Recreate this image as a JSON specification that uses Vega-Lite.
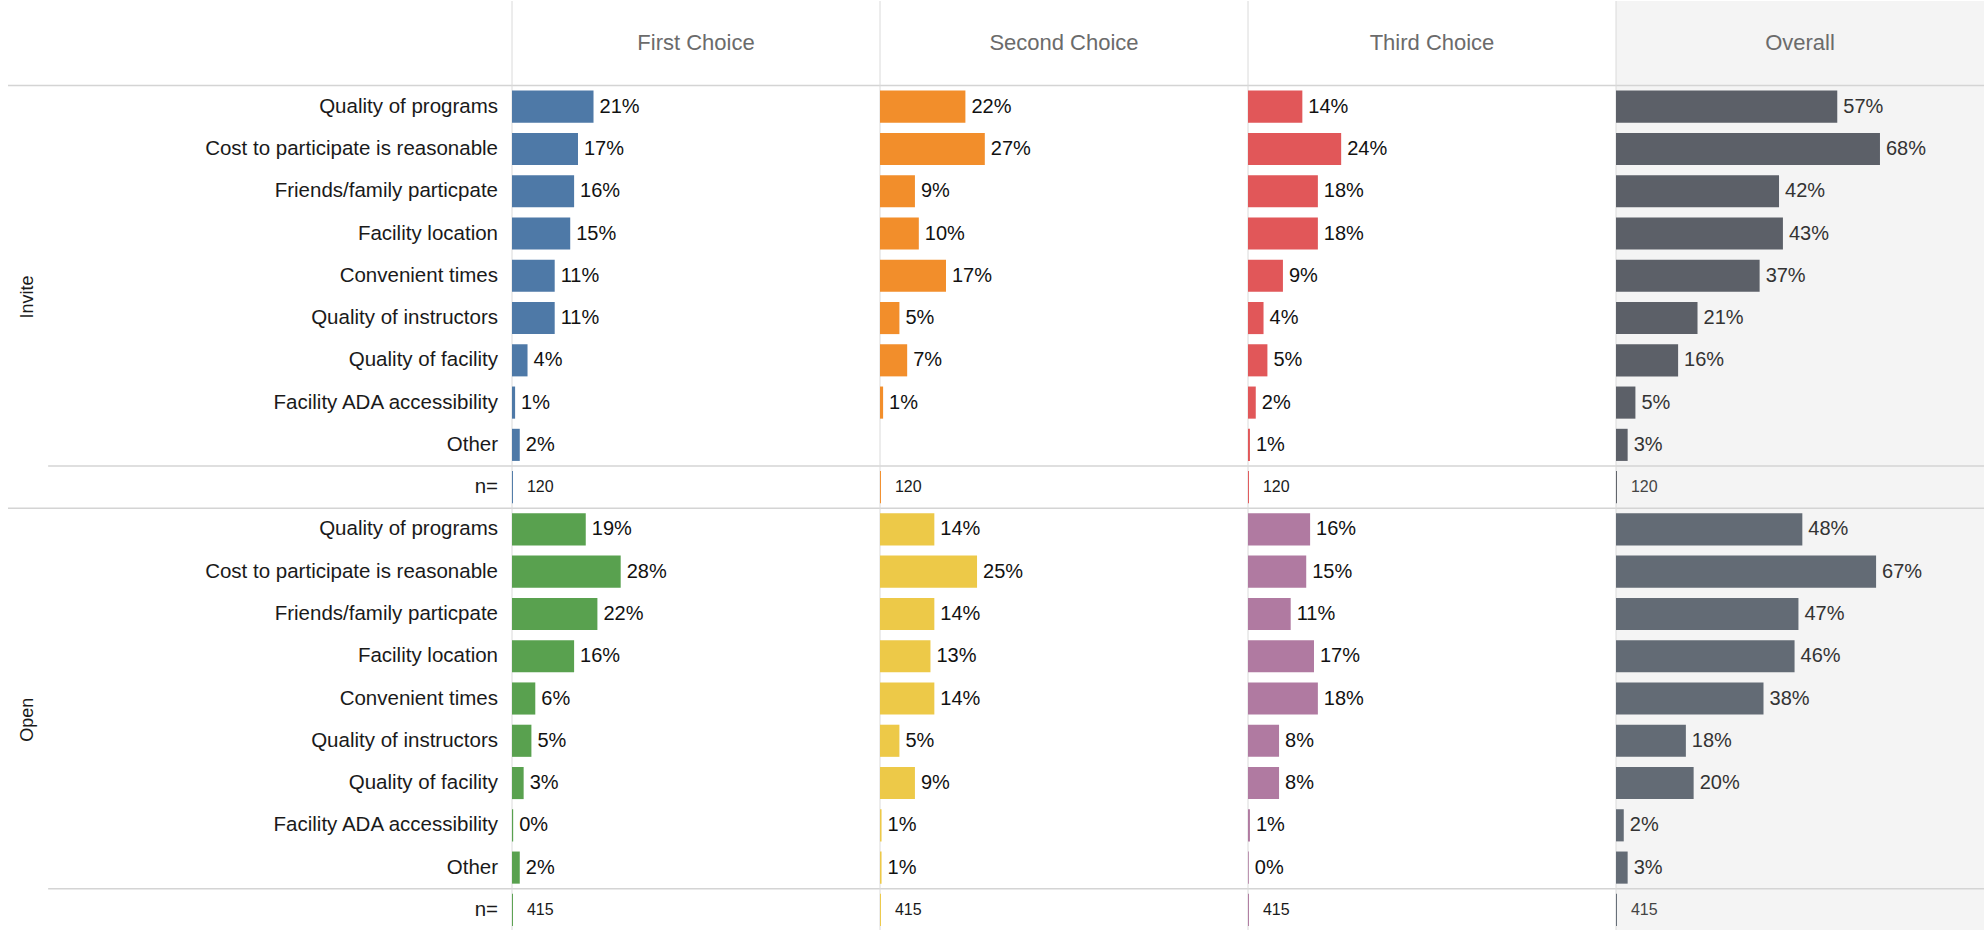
{
  "$schema": "https://vega.github.io/schema/vega-lite/v6.json",
  "padding": 0,
  "background": "white",
  "bounds": "flush",
  "config": {"font": "Liberation Sans", "view": {"stroke": null}},
  "datasets": {
    "d": [
      {"r": "I1", "g": "Invite", "item": "Quality of programs", "c": "First Choice", "v": 0.21, "t": "21%"},
      {"r": "I2", "g": "Invite", "item": "Cost to participate is reasonable", "c": "First Choice", "v": 0.17, "t": "17%"},
      {"r": "I3", "g": "Invite", "item": "Friends/family particpate", "c": "First Choice", "v": 0.16, "t": "16%"},
      {"r": "I4", "g": "Invite", "item": "Facility location", "c": "First Choice", "v": 0.15, "t": "15%"},
      {"r": "I5", "g": "Invite", "item": "Convenient times", "c": "First Choice", "v": 0.11, "t": "11%"},
      {"r": "I6", "g": "Invite", "item": "Quality of instructors", "c": "First Choice", "v": 0.11, "t": "11%"},
      {"r": "I7", "g": "Invite", "item": "Quality of facility", "c": "First Choice", "v": 0.04, "t": "4%"},
      {"r": "I8", "g": "Invite", "item": "Facility ADA accessibility", "c": "First Choice", "v": 0.008, "t": "1%"},
      {"r": "I9", "g": "Invite", "item": "Other", "c": "First Choice", "v": 0.02, "t": "2%"},
      {"r": "In", "g": "Invite", "item": "n=", "c": "First Choice", "v": 0.0025, "t": "120"},
      {"r": "I1", "g": "Invite", "item": "Quality of programs", "c": "Second Choice", "v": 0.22, "t": "22%"},
      {"r": "I2", "g": "Invite", "item": "Cost to participate is reasonable", "c": "Second Choice", "v": 0.27, "t": "27%"},
      {"r": "I3", "g": "Invite", "item": "Friends/family particpate", "c": "Second Choice", "v": 0.09, "t": "9%"},
      {"r": "I4", "g": "Invite", "item": "Facility location", "c": "Second Choice", "v": 0.10, "t": "10%"},
      {"r": "I5", "g": "Invite", "item": "Convenient times", "c": "Second Choice", "v": 0.17, "t": "17%"},
      {"r": "I6", "g": "Invite", "item": "Quality of instructors", "c": "Second Choice", "v": 0.05, "t": "5%"},
      {"r": "I7", "g": "Invite", "item": "Quality of facility", "c": "Second Choice", "v": 0.07, "t": "7%"},
      {"r": "I8", "g": "Invite", "item": "Facility ADA accessibility", "c": "Second Choice", "v": 0.008, "t": "1%"},
      {"r": "In", "g": "Invite", "item": "n=", "c": "Second Choice", "v": 0.0025, "t": "120"},
      {"r": "I1", "g": "Invite", "item": "Quality of programs", "c": "Third Choice", "v": 0.14, "t": "14%"},
      {"r": "I2", "g": "Invite", "item": "Cost to participate is reasonable", "c": "Third Choice", "v": 0.24, "t": "24%"},
      {"r": "I3", "g": "Invite", "item": "Friends/family particpate", "c": "Third Choice", "v": 0.18, "t": "18%"},
      {"r": "I4", "g": "Invite", "item": "Facility location", "c": "Third Choice", "v": 0.18, "t": "18%"},
      {"r": "I5", "g": "Invite", "item": "Convenient times", "c": "Third Choice", "v": 0.09, "t": "9%"},
      {"r": "I6", "g": "Invite", "item": "Quality of instructors", "c": "Third Choice", "v": 0.04, "t": "4%"},
      {"r": "I7", "g": "Invite", "item": "Quality of facility", "c": "Third Choice", "v": 0.05, "t": "5%"},
      {"r": "I8", "g": "Invite", "item": "Facility ADA accessibility", "c": "Third Choice", "v": 0.02, "t": "2%"},
      {"r": "I9", "g": "Invite", "item": "Other", "c": "Third Choice", "v": 0.005, "t": "1%"},
      {"r": "In", "g": "Invite", "item": "n=", "c": "Third Choice", "v": 0.0025, "t": "120"},
      {"r": "I1", "g": "Invite", "item": "Quality of programs", "c": "Overall", "v": 0.57, "t": "57%"},
      {"r": "I2", "g": "Invite", "item": "Cost to participate is reasonable", "c": "Overall", "v": 0.68, "t": "68%"},
      {"r": "I3", "g": "Invite", "item": "Friends/family particpate", "c": "Overall", "v": 0.42, "t": "42%"},
      {"r": "I4", "g": "Invite", "item": "Facility location", "c": "Overall", "v": 0.43, "t": "43%"},
      {"r": "I5", "g": "Invite", "item": "Convenient times", "c": "Overall", "v": 0.37, "t": "37%"},
      {"r": "I6", "g": "Invite", "item": "Quality of instructors", "c": "Overall", "v": 0.21, "t": "21%"},
      {"r": "I7", "g": "Invite", "item": "Quality of facility", "c": "Overall", "v": 0.16, "t": "16%"},
      {"r": "I8", "g": "Invite", "item": "Facility ADA accessibility", "c": "Overall", "v": 0.05, "t": "5%"},
      {"r": "I9", "g": "Invite", "item": "Other", "c": "Overall", "v": 0.03, "t": "3%"},
      {"r": "In", "g": "Invite", "item": "n=", "c": "Overall", "v": 0.0025, "t": "120"},
      {"r": "O1", "g": "Open", "item": "Quality of programs", "c": "First Choice", "v": 0.19, "t": "19%"},
      {"r": "O2", "g": "Open", "item": "Cost to participate is reasonable", "c": "First Choice", "v": 0.28, "t": "28%"},
      {"r": "O3", "g": "Open", "item": "Friends/family particpate", "c": "First Choice", "v": 0.22, "t": "22%"},
      {"r": "O4", "g": "Open", "item": "Facility location", "c": "First Choice", "v": 0.16, "t": "16%"},
      {"r": "O5", "g": "Open", "item": "Convenient times", "c": "First Choice", "v": 0.06, "t": "6%"},
      {"r": "O6", "g": "Open", "item": "Quality of instructors", "c": "First Choice", "v": 0.05, "t": "5%"},
      {"r": "O7", "g": "Open", "item": "Quality of facility", "c": "First Choice", "v": 0.03, "t": "3%"},
      {"r": "O8", "g": "Open", "item": "Facility ADA accessibility", "c": "First Choice", "v": 0.003, "t": "0%"},
      {"r": "O9", "g": "Open", "item": "Other", "c": "First Choice", "v": 0.02, "t": "2%"},
      {"r": "On", "g": "Open", "item": "n=", "c": "First Choice", "v": 0.0025, "t": "415"},
      {"r": "O1", "g": "Open", "item": "Quality of programs", "c": "Second Choice", "v": 0.14, "t": "14%"},
      {"r": "O2", "g": "Open", "item": "Cost to participate is reasonable", "c": "Second Choice", "v": 0.25, "t": "25%"},
      {"r": "O3", "g": "Open", "item": "Friends/family particpate", "c": "Second Choice", "v": 0.14, "t": "14%"},
      {"r": "O4", "g": "Open", "item": "Facility location", "c": "Second Choice", "v": 0.13, "t": "13%"},
      {"r": "O5", "g": "Open", "item": "Convenient times", "c": "Second Choice", "v": 0.14, "t": "14%"},
      {"r": "O6", "g": "Open", "item": "Quality of instructors", "c": "Second Choice", "v": 0.05, "t": "5%"},
      {"r": "O7", "g": "Open", "item": "Quality of facility", "c": "Second Choice", "v": 0.09, "t": "9%"},
      {"r": "O8", "g": "Open", "item": "Facility ADA accessibility", "c": "Second Choice", "v": 0.004, "t": "1%"},
      {"r": "O9", "g": "Open", "item": "Other", "c": "Second Choice", "v": 0.004, "t": "1%"},
      {"r": "On", "g": "Open", "item": "n=", "c": "Second Choice", "v": 0.0025, "t": "415"},
      {"r": "O1", "g": "Open", "item": "Quality of programs", "c": "Third Choice", "v": 0.16, "t": "16%"},
      {"r": "O2", "g": "Open", "item": "Cost to participate is reasonable", "c": "Third Choice", "v": 0.15, "t": "15%"},
      {"r": "O3", "g": "Open", "item": "Friends/family particpate", "c": "Third Choice", "v": 0.11, "t": "11%"},
      {"r": "O4", "g": "Open", "item": "Facility location", "c": "Third Choice", "v": 0.17, "t": "17%"},
      {"r": "O5", "g": "Open", "item": "Convenient times", "c": "Third Choice", "v": 0.18, "t": "18%"},
      {"r": "O6", "g": "Open", "item": "Quality of instructors", "c": "Third Choice", "v": 0.08, "t": "8%"},
      {"r": "O7", "g": "Open", "item": "Quality of facility", "c": "Third Choice", "v": 0.08, "t": "8%"},
      {"r": "O8", "g": "Open", "item": "Facility ADA accessibility", "c": "Third Choice", "v": 0.005, "t": "1%"},
      {"r": "O9", "g": "Open", "item": "Other", "c": "Third Choice", "v": 0.002, "t": "0%"},
      {"r": "On", "g": "Open", "item": "n=", "c": "Third Choice", "v": 0.0025, "t": "415"},
      {"r": "O1", "g": "Open", "item": "Quality of programs", "c": "Overall", "v": 0.48, "t": "48%"},
      {"r": "O2", "g": "Open", "item": "Cost to participate is reasonable", "c": "Overall", "v": 0.67, "t": "67%"},
      {"r": "O3", "g": "Open", "item": "Friends/family particpate", "c": "Overall", "v": 0.47, "t": "47%"},
      {"r": "O4", "g": "Open", "item": "Facility location", "c": "Overall", "v": 0.46, "t": "46%"},
      {"r": "O5", "g": "Open", "item": "Convenient times", "c": "Overall", "v": 0.38, "t": "38%"},
      {"r": "O6", "g": "Open", "item": "Quality of instructors", "c": "Overall", "v": 0.18, "t": "18%"},
      {"r": "O7", "g": "Open", "item": "Quality of facility", "c": "Overall", "v": 0.20, "t": "20%"},
      {"r": "O8", "g": "Open", "item": "Facility ADA accessibility", "c": "Overall", "v": 0.02, "t": "2%"},
      {"r": "O9", "g": "Open", "item": "Other", "c": "Overall", "v": 0.03, "t": "3%"},
      {"r": "On", "g": "Open", "item": "n=", "c": "Overall", "v": 0.0025, "t": "415"}
    ]
  },
  "data": {"name": "d"},
  "spacing": 0,
  "hconcat": [
    {
      "width": 512,
      "height": 930,
      "transform": [{"filter": "datum.c == 'First Choice'"}],
      "layer": [
        {
          "transform": [{"filter": "datum.r == 'I1' || datum.r == 'O1'"}],
          "mark": {"type": "rule", "color": "#d4d4d4", "strokeWidth": 1.5},
          "encoding": {
            "x": {"datum": 0.0156, "type": "quantitative", "scale": {"domain": [0, 1], "nice": false, "zero": false}, "axis": null},
            "x2": {"datum": 1},
            "y": {"field": "r", "type": "nominal", "bandPosition": 0, "axis": null,
                  "scale": {"domain": ["H1","H2","I1","I2","I3","I4","I5","I6","I7","I8","I9","In","O1","O2","O3","O4","O5","O6","O7","O8","O9","On"], "paddingInner": 0, "paddingOuter": 0}}
          }
        },
        {
          "transform": [{"filter": "datum.r == 'In' || datum.r == 'On'"}],
          "mark": {"type": "rule", "color": "#d4d4d4", "strokeWidth": 1.5},
          "encoding": {
            "x": {"datum": 0.094, "type": "quantitative", "scale": {"domain": [0, 1], "nice": false, "zero": false}, "axis": null},
            "x2": {"datum": 1},
            "y": {"field": "r", "type": "nominal", "bandPosition": 0, "axis": null,
                  "scale": {"domain": ["H1","H2","I1","I2","I3","I4","I5","I6","I7","I8","I9","In","O1","O2","O3","O4","O5","O6","O7","O8","O9","On"], "paddingInner": 0, "paddingOuter": 0}}
          }
        },
        {
          "mark": {"type": "text", "align": "right", "baseline": "middle", "fontSize": 20.5, "color": "#1a1a1a"},
          "encoding": {
            "x": {"datum": 0.9727, "type": "quantitative", "scale": {"domain": [0, 1], "nice": false, "zero": false}, "axis": null},
            "y": {"field": "r", "type": "nominal", "axis": null,
                  "scale": {"domain": ["H1","H2","I1","I2","I3","I4","I5","I6","I7","I8","I9","In","O1","O2","O3","O4","O5","O6","O7","O8","O9","On"], "paddingInner": 0, "paddingOuter": 0}},
            "text": {"field": "item"}
          }
        },
        {
          "transform": [{"filter": "datum.r == 'I6' || datum.r == 'O6'"}],
          "mark": {"type": "text", "align": "center", "baseline": "middle", "angle": 270, "fontSize": 18, "color": "#1a1a1a"},
          "encoding": {
            "x": {"datum": 0.0547, "type": "quantitative", "scale": {"domain": [0, 1], "nice": false, "zero": false}, "axis": null},
            "y": {"field": "r", "type": "nominal", "bandPosition": 0, "axis": null,
                  "scale": {"domain": ["H1","H2","I1","I2","I3","I4","I5","I6","I7","I8","I9","In","O1","O2","O3","O4","O5","O6","O7","O8","O9","On"], "paddingInner": 0, "paddingOuter": 0}},
            "text": {"field": "g"}
          }
        }
      ]
    },
    {
      "facet": {"column": {"field": "c", "type": "nominal", "sort": ["First Choice", "Second Choice", "Third Choice", "Overall"], "header": null}},
      "spacing": 0,
      "bounds": "flush",
      "spec": {
        "width": 368,
        "height": 930,
        "layer": [
          {
            "transform": [{"filter": "datum.c == 'Overall' && datum.r == 'I1'"}],
            "mark": {"type": "rect", "color": "#f4f4f4"},
            "encoding": {
              "x": {"datum": 0, "type": "quantitative", "scale": {"domain": [0, 0.948], "nice": false, "zero": false}, "axis": null},
              "x2": {"datum": 0.948}
            }
          },
          {
            "transform": [{"filter": "datum.r == 'I1' || datum.r == 'O1' || datum.r == 'In' || datum.r == 'On'"}],
            "mark": {"type": "rule", "color": "#d4d4d4", "strokeWidth": 1.5},
            "encoding": {
              "y": {"field": "r", "type": "nominal", "bandPosition": 0, "axis": null,
                    "scale": {"domain": ["H1","H2","I1","I2","I3","I4","I5","I6","I7","I8","I9","In","O1","O2","O3","O4","O5","O6","O7","O8","O9","On"], "paddingInner": 0, "paddingOuter": 0}}
            }
          },
          {
            "transform": [{"filter": "datum.r == 'I1'"}],
            "mark": {"type": "rule", "color": "#dadada", "strokeWidth": 1},
            "encoding": {
              "x": {"datum": 0, "type": "quantitative", "scale": {"domain": [0, 0.948], "nice": false, "zero": false}, "axis": null}
            }
          },
          {
            "transform": [{"filter": "datum.g == 'Invite'"}],
            "mark": {"type": "bar", "height": {"band": 0.76}},
            "encoding": {
              "x": {"field": "v", "type": "quantitative", "scale": {"domain": [0, 0.948], "nice": false, "zero": false}, "axis": null},
              "y": {"field": "r", "type": "nominal", "axis": null,
                    "scale": {"domain": ["H1","H2","I1","I2","I3","I4","I5","I6","I7","I8","I9","In","O1","O2","O3","O4","O5","O6","O7","O8","O9","On"], "paddingInner": 0, "paddingOuter": 0}},
              "color": {"field": "c", "type": "nominal", "legend": null,
                        "scale": {"domain": ["First Choice", "Second Choice", "Third Choice", "Overall"], "range": ["#4e79a7", "#f28e2b", "#e15759", "#5c6068"]}}
            }
          },
          {
            "transform": [{"filter": "datum.g == 'Open'"}],
            "mark": {"type": "bar", "height": {"band": 0.76}},
            "encoding": {
              "x": {"field": "v", "type": "quantitative", "scale": {"domain": [0, 0.948], "nice": false, "zero": false}, "axis": null},
              "y": {"field": "r", "type": "nominal", "axis": null,
                    "scale": {"domain": ["H1","H2","I1","I2","I3","I4","I5","I6","I7","I8","I9","In","O1","O2","O3","O4","O5","O6","O7","O8","O9","On"], "paddingInner": 0, "paddingOuter": 0}},
              "fill": {"field": "c", "type": "nominal", "legend": null,
                       "scale": {"domain": ["First Choice", "Second Choice", "Third Choice", "Overall"], "range": ["#59a14f", "#edc948", "#b07aa1", "#636b75"]}}
            }
          },
          {
            "transform": [{"filter": "datum.r != 'In' && datum.r != 'On'"}],
            "mark": {"type": "text", "align": "left", "baseline": "middle", "dx": 6, "fontSize": 20},
            "encoding": {
              "x": {"field": "v", "type": "quantitative", "scale": {"domain": [0, 0.948], "nice": false, "zero": false}, "axis": null},
              "y": {"field": "r", "type": "nominal", "axis": null,
                    "scale": {"domain": ["H1","H2","I1","I2","I3","I4","I5","I6","I7","I8","I9","In","O1","O2","O3","O4","O5","O6","O7","O8","O9","On"], "paddingInner": 0, "paddingOuter": 0}},
              "text": {"field": "t"},
              "color": {"condition": {"test": "datum.c == 'Overall'", "value": "#333333"}, "value": "#111111"}
            }
          },
          {
            "transform": [{"filter": "datum.r == 'In' || datum.r == 'On'"}],
            "mark": {"type": "text", "align": "left", "baseline": "middle", "dx": 14, "fontSize": 16},
            "encoding": {
              "x": {"field": "v", "type": "quantitative", "scale": {"domain": [0, 0.948], "nice": false, "zero": false}, "axis": null},
              "y": {"field": "r", "type": "nominal", "axis": null,
                    "scale": {"domain": ["H1","H2","I1","I2","I3","I4","I5","I6","I7","I8","I9","In","O1","O2","O3","O4","O5","O6","O7","O8","O9","On"], "paddingInner": 0, "paddingOuter": 0}},
              "text": {"field": "t"},
              "color": {"condition": {"test": "datum.c == 'Overall'", "value": "#444444"}, "value": "#1a1a1a"}
            }
          },
          {
            "transform": [{"filter": "datum.r == 'I1'"}],
            "mark": {"type": "text", "align": "center", "baseline": "middle", "fontSize": 22, "color": "#6b6b6b"},
            "encoding": {
              "x": {"datum": 0.474, "type": "quantitative", "scale": {"domain": [0, 0.948], "nice": false, "zero": false}, "axis": null},
              "y": {"datum": "H2", "type": "nominal", "bandPosition": 0, "axis": null,
                    "scale": {"domain": ["H1","H2","I1","I2","I3","I4","I5","I6","I7","I8","I9","In","O1","O2","O3","O4","O5","O6","O7","O8","O9","On"], "paddingInner": 0, "paddingOuter": 0}},
              "text": {"field": "c"}
            }
          }
        ]
      }
    }
  ]
}
